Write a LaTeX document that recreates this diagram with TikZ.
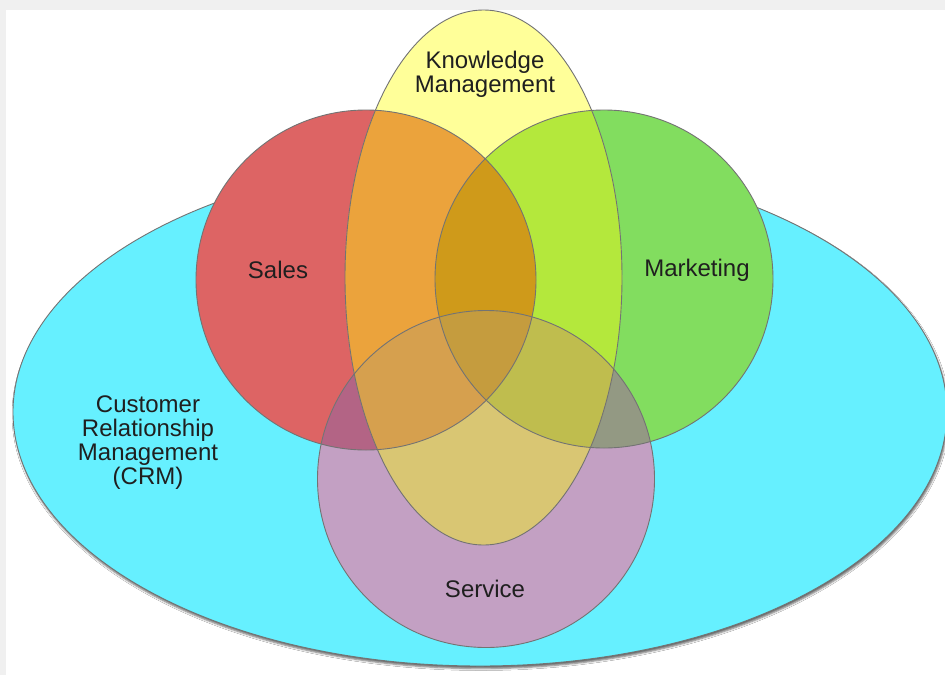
\documentclass[tikz,border=0pt]{standalone}
\usepackage{fontspec}
\setmainfont{Liberation Sans}
\usetikzlibrary{shadows.blur}

% fills of the single sets
\definecolor{crmcyan}{HTML}{66F0FF}
\definecolor{salesred}{HTML}{DD6464}
\definecolor{mktgreen}{HTML}{82DD5F}
\definecolor{knowyellow}{HTML}{FFFF99}
\definecolor{servpurple}{HTML}{C3A0C3}
% fills of the overlaps
\definecolor{salesknow}{HTML}{EBA33C}
\definecolor{mktknow}{HTML}{B4E83C}
\definecolor{salesserv}{HTML}{B36485}
\definecolor{mktserv}{HTML}{939983}
\definecolor{knowserv}{HTML}{D9C673}
\definecolor{salesmktknow}{HTML}{CF9A1A}
\definecolor{salesknowserv}{HTML}{D6A04E}
\definecolor{mktknowserv}{HTML}{BFBD4E}
\definecolor{allfour}{HTML}{C59C3E}

\newcommand{\crmset}{(480,412) ellipse [x radius=467, y radius=254]}
\newcommand{\salesset}{(366,280) circle [radius=170]}
\newcommand{\mktset}{(604,279) circle [radius=169]}
\newcommand{\knowset}{(483.5,277.5) ellipse [x radius=138.5, y radius=267.5]}
\newcommand{\servset}{(486,479) circle [radius=168.5]}

\begin{document}
\begin{tikzpicture}[x=1pt, y=-1pt,
    outline/.style={draw=black!55, line width=0.9pt},
    setlabel/.style={font=\fontsize{24}{24}\selectfont, text=black!88,
      align=center, inner sep=0pt}]
  \useasboundingbox (0,0) rectangle (945,675);
  \fill[black!6] (0,0) rectangle (945,675);
  \fill[white] (6,10) rectangle (945,675);

  \filldraw[outline, fill=crmcyan,
    blur shadow={shadow xshift=1pt, shadow yshift=-2.5pt,
      shadow blur radius=2pt, shadow opacity=60}] \crmset;

  \fill[salesred] \salesset;
  \fill[mktgreen] \mktset;
  \fill[knowyellow] \knowset;
  \fill[servpurple] \servset;

  % two sets
  \foreach \one/\two/\col in {\salesset/\knowset/salesknow,
      \mktset/\knowset/mktknow, \salesset/\servset/salesserv,
      \mktset/\servset/mktserv, \knowset/\servset/knowserv} {
    \begin{scope}
      \clip \one;
      \fill[\col] \two;
    \end{scope}
  }

  % three sets
  \foreach \one/\two/\three/\col in {\salesset/\mktset/\knowset/salesmktknow,
      \salesset/\knowset/\servset/salesknowserv,
      \mktset/\knowset/\servset/mktknowserv} {
    \begin{scope}
      \clip \one;
      \clip \two;
      \fill[\col] \three;
    \end{scope}
  }

  \begin{scope}
    \clip \salesset;
    \clip \mktset;
    \clip \knowset;
    \fill[allfour] \servset;
  \end{scope}

  \foreach \s in {\salesset, \mktset, \knowset, \servset}
    \draw[outline] \s;

  \node[setlabel] (know) at (485,74) {Knowledge\\Management};
  \node[setlabel] (sales) at (278,270) {Sales};
  \node[setlabel] (mkt) at (697,270) {Marketing};
  \node[setlabel] (crm) at (148,443) {Customer\\Relationship\\Management\\(CRM)};
  \node[setlabel] (serv) at (485,589) {Service};
\end{tikzpicture}
\end{document}
